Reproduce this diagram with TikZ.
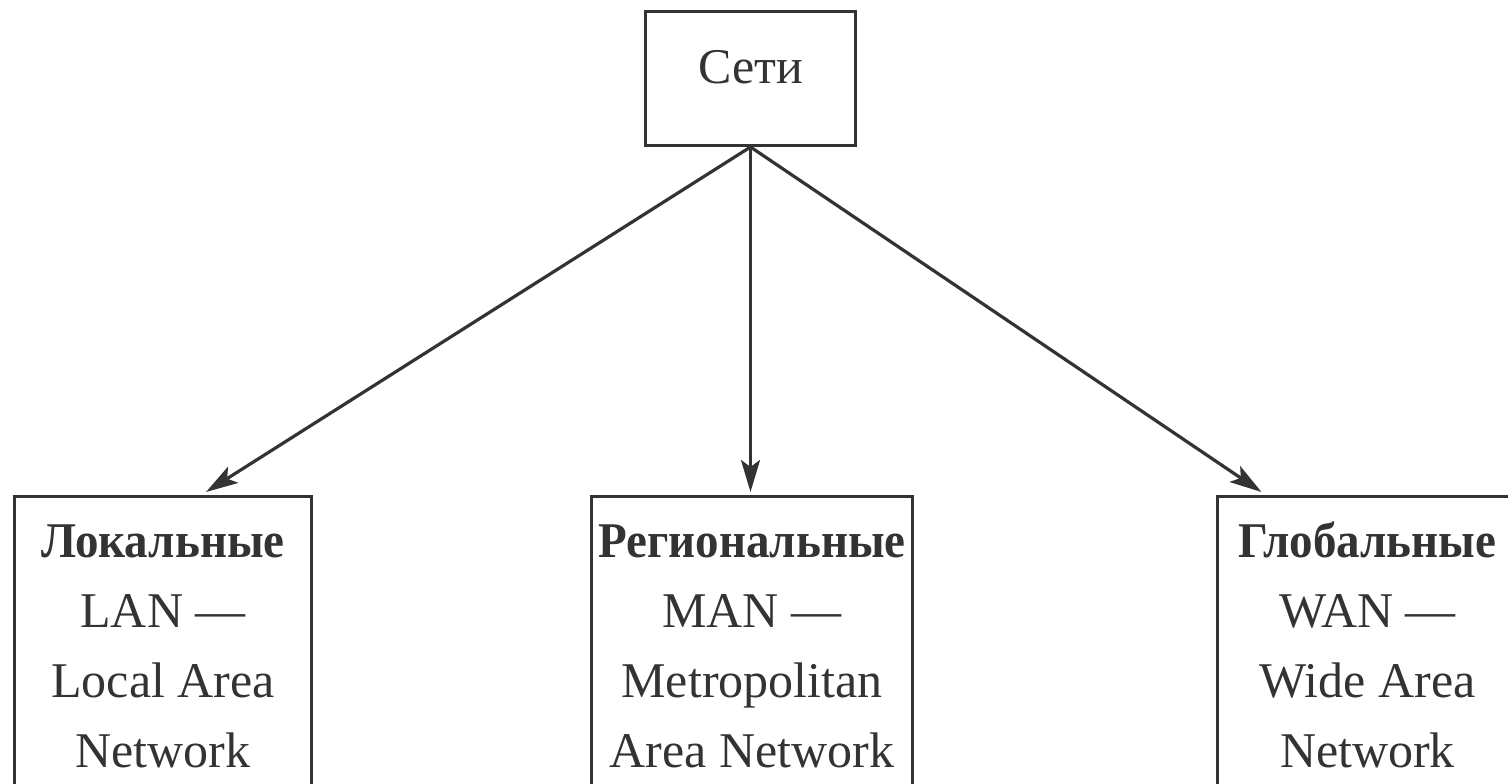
\documentclass[tikz,border=0pt]{standalone}
\usepackage{fontspec}
\usepackage{graphicx}
\setmainfont{Liberation Serif}
\usetikzlibrary{arrows.meta}
\definecolor{ink}{HTML}{333333}
\newcommand{\hd}[1]{\scalebox{0.94}[1]{\textbf{#1}}}
\tikzset{
  box/.style={draw=ink, line width=3pt, inner sep=0pt, anchor=north west},
  lbl/.style={text=ink, align=center, inner sep=0pt, font=\fontsize{50}{70}\selectfont},
  arr/.style={draw=ink, line width=3.2pt, -{Stealth[length=32pt,width=19pt,inset=7pt]}},
}
\begin{document}
\begin{tikzpicture}[x=1pt,y=-1pt]
\useasboundingbox (0,0) rectangle (1508,784);
\clip (0,0) rectangle (1508,784);
\node[box, minimum width=210pt, minimum height=134pt] (setibox) at (644,10) {};
\node[lbl, anchor=base] (seti) at ([yshift=-5pt]setibox.center) {Сети};
\node[box, minimum width=297pt, minimum height=320pt] (lanbox) at (13,495) {};
\node[box, minimum width=321pt, minimum height=320pt] (manbox) at (590,495) {};
\node[box, minimum width=320pt, minimum height=320pt] (wanbox) at (1216,495) {};
\node[lbl, anchor=north] (lan) at ([yshift=-30pt]lanbox.north) {\hd{Локальные}\\LAN —\\Local Area\\Network};
\node[lbl, anchor=north] (man) at ([yshift=-30pt]manbox.north) {\hd{Региональные}\\MAN —\\Metropolitan\\Area Network};
\node[lbl, anchor=north] (wan) at ([yshift=-27pt,xshift=-10pt]wanbox.north) {\hd{Глобальные}\\WAN —\\Wide Area\\Network};
\draw[arr] (setibox.south) -- ([xshift=43pt,yshift=3pt]lanbox.north);
\draw[arr] (setibox.south) -- ([xshift=-1.5pt,yshift=3pt]manbox.north);
\draw[arr] (setibox.south) -- ([xshift=-116pt,yshift=3pt]wanbox.north);
\end{tikzpicture}
\end{document}
